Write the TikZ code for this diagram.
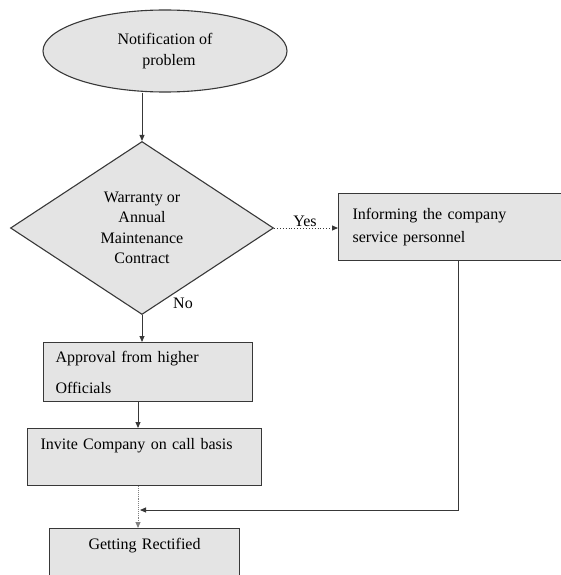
\documentclass[tikz,border=0pt]{standalone}
\usepackage{fontspec}
\setmainfont{Liberation Serif}
\usetikzlibrary{shapes.geometric,arrows.meta}
\definecolor{boxfill}{HTML}{E4E4E4}
\definecolor{linec}{HTML}{383838}
\begin{document}
\begin{tikzpicture}[x=1pt,y=-1pt,
  font=\fontsize{16}{20.5}\selectfont,
  shapefill/.style={fill=boxfill, draw=linec, line width=1.1pt},
  pbox/.style={shapefill, rectangle, inner ysep=0pt, anchor=north west},
  arr/.style={-{Triangle[length=6pt,width=5pt]}, draw=linec, line width=0.9pt},
]
\useasboundingbox (0,0) rectangle (561,575);
\node[ellipse, shapefill, minimum width=244pt, minimum height=82pt, inner sep=0pt, align=center,
  font=\fontsize{16}{21}\selectfont] (ell) at (165,51) {Notification of\\\hspace{8pt}problem};
\node[diamond, shapefill, aspect=1.52, minimum width=263pt, minimum height=173pt, inner sep=0pt,
  align=center] (dia) at (142,228) {Warranty or\\Annual\\Maintenance\\Contract};
\node[pbox, minimum width=232pt, minimum height=67pt, inner xsep=14pt, text width=204pt, align=left,
  font=\fontsize{16}{23}\selectfont] (info) at (338,193) {Informing the company\\service personnel};
\node[pbox, minimum width=209pt, minimum height=59pt, inner xsep=12pt, text width=185pt, align=left,
  font=\fontsize{16}{31}\selectfont] (appr) at (43,342) {Approval from higher\\Officials};
\node[pbox, minimum width=234pt, minimum height=57pt, inner xsep=13pt, text width=208pt, align=left,
  font=\fontsize{16}{20}\selectfont] (inv) at (27,428) {Invite Company on call basis\\\strut};
\node[pbox, minimum width=190pt, minimum height=62pt, inner xsep=6pt, text width=178pt, align=center,
  font=\fontsize{16}{24}\selectfont] (rect) at (49,528) {Getting Rectified\\\strut};
\node (yes) at (305,221) {Yes};
\node (no) at (183,303) {No};
\coordinate (cx) at (138,0);
\coordinate (corner) at (458,510);
\draw[arr] (dia.north |- ell.south) -- (dia.north);
\draw[arr, dotted] (dia.east) -- (dia.east -| info.west);
\draw[arr] (dia.south) -- (dia.south |- appr.north);
\draw[arr] (appr.south -| cx) -- (inv.north -| cx);
\draw[arr, densely dotted, draw=gray] (inv.south -| cx) -- (rect.north -| cx);
\draw[arr] (info.south -| corner) -- (corner) -- ([xshift=2pt]cx |- corner);
\end{tikzpicture}
\end{document}
